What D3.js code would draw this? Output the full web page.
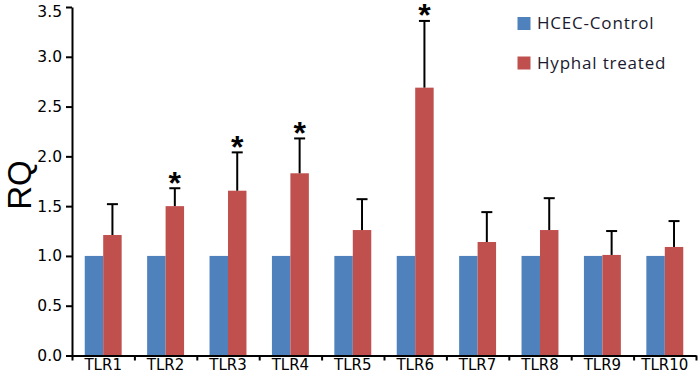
<!DOCTYPE html>
<html>
<head>
<meta charset="utf-8">
<script src="https://cdn.jsdelivr.net/npm/d3@7"></script>
<style>
  body { margin: 0; background: #fff; }
  svg { display: block; }
</style>
</head>
<body>
<div id="grafica"></div>
<script>
// datos
categorias = ['TLR1', 'TLR2', 'TLR3', 'TLR4', 'TLR5', 'TLR6', 'TLR7', 'TLR8', 'TLR9', 'TLR10']
series = ['HCEC-Control', 'Hyphal treated']
control = [1, 1, 1, 1, 1, 1, 1, 1, 1, 1]
tratado = [1.21, 1.50, 1.655, 1.83, 1.26, 2.69, 1.14, 1.26, 1.01, 1.09]
errorSup = [1.52, 1.68, 2.04, 2.18, 1.57, 3.36, 1.44, 1.58, 1.25, 1.35]   // extremo superior de la barra de error
significativo = ['TLR2', 'TLR3', 'TLR4', 'TLR6']
ticksY = [0, 0.5, 1, 1.5, 2, 2.5, 3, 3.5]

colores = {
    'HCEC-Control': '#4F81BD',
    'Hyphal treated': '#C0504D'
}

width = 700
height = 374
margin = { top: 7, right: 4, bottom: 18.5, left: 72 }

svg = d3.select('#grafica')
    .append('svg')
    .attr('width', width)
    .attr('height', height)

x0 = d3.scaleBand()
    .domain(categorias)
    .range([margin.left, width - margin.right])
    .padding(0)

x1 = d3.scaleBand()
    .domain(series)
    .range([0, x0.bandwidth()])
    .paddingInner(0)
    .paddingOuter(0.69)

y = d3.scaleLinear()
    .domain([0, 3.5])
    .range([height - margin.bottom, margin.top])

datos = categorias.map(function (c, i) {
    return { cat: c, valores: [
        { serie: series[0], v: control[i] },
        { serie: series[1], v: tratado[i] }
    ], err: errorSup[i] }
})

// barras
grupos = svg.selectAll('g.grupo')
    .data(datos)
    .enter()
    .append('g')
    .attr('class', 'grupo')
    .attr('transform', function (d) { return 'translate(' + x0(d.cat) + ',0)' })

grupos.selectAll('rect')
    .data(function (d) { return d.valores })
    .enter()
    .append('rect')
    .attr('x', function (d) { return x1(d.serie) })
    .attr('y', function (d) { return y(d.v) })
    .attr('width', x1.bandwidth())
    .attr('height', function (d) { return y(0) - y(d.v) })
    .style('fill', function (d) { return colores[d.serie] })

// barras de error (solo hacia arriba)
cx = function (d) { return x0(d.cat) + x1(series[1]) + x1.bandwidth() / 2 }
err = svg.selectAll('g.err')
    .data(datos)
    .enter()
    .append('g')
    .attr('class', 'err')
    .style('stroke', '#000')
    .style('stroke-width', 2)

err.append('line')
    .attr('x1', cx).attr('x2', cx)
    .attr('y1', function (d) { return y(d.valores[1].v) })
    .attr('y2', function (d) { return y(d.err) })

err.append('line')
    .attr('x1', function (d) { return cx(d) - 5.5 })
    .attr('x2', function (d) { return cx(d) + 5.5 })
    .attr('y1', function (d) { return y(d.err) })
    .attr('y2', function (d) { return y(d.err) })

// asteriscos
svg.selectAll('text.ast')
    .data(datos.filter(function (d) { return significativo.indexOf(d.cat) >= 0 }))
    .enter()
    .append('text')
    .attr('class', 'ast')
    .attr('x', cx)
    .attr('y', function (d) { return y(d.err) + 5.5 })
    .attr('text-anchor', 'middle')
    .style('font-family', 'Liberation Sans, Arial, sans-serif')
    .style('font-weight', 'bold')
    .style('font-size', '32px')
    .text('*')

// eje Y
ejeY = svg.append('g')
    .attr('transform', 'translate(' + margin.left + ',0)')
    .call(d3.axisLeft(y)
        .tickValues(ticksY)
        .tickFormat(d3.format('.1f'))
        .tickSize(6)
        .tickSizeOuter(0)
        .tickPadding(4))

ejeY.selectAll('path, line')
    .style('stroke', '#000')
    .style('stroke-width', 2)
ejeY.selectAll('text')
    .style('font-family', 'DejaVu Sans, sans-serif')
    .style('font-size', '15.5px')
    .style('fill', '#000')
// la etiqueta superior queda un poco mas abajo que su marca
ejeY.selectAll('.tick text')
    .attr('y', function (d) { return d == 3.5 ? 4.5 : 0 })

// eje X: marcas entre categorias y etiquetas
xLim = d3.scaleLinear()
    .domain([0, categorias.length])
    .range([margin.left, width - margin.right])

ejeX = svg.append('g')
    .attr('transform', 'translate(0,' + y(0) + ')')
    .call(d3.axisBottom(xLim)
        .ticks(categorias.length)
        .tickFormat('')
        .tickSize(5)
        .tickSizeOuter(0))
ejeX.selectAll('path, line')
    .style('stroke', '#000')
    .style('stroke-width', 2)

etiquetas = svg.append('g')
    .attr('transform', 'translate(0,' + y(0) + ')')
    .call(d3.axisBottom(x0).tickSize(0).tickPadding(3.5))
etiquetas.select('path').remove()
etiquetas.selectAll('text')
    .style('font-family', 'DejaVu Sans, sans-serif')
    .style('font-size', '15px')
    .style('fill', '#000')

// titulo eje Y
svg.append('text')
    .attr('transform', 'translate(30.5,185) rotate(-90)')
    .attr('text-anchor', 'middle')
    .style('font-family', 'Liberation Sans, Arial, sans-serif')
    .style('font-size', '33px')
    .text('RQ')

// leyenda
leyenda = svg.selectAll('g.leyenda')
    .data(series)
    .enter()
    .append('g')
    .attr('class', 'leyenda')
    .attr('transform', function (d, i) { return 'translate(517.5,' + (17 + i * 39.5) + ')' })

leyenda.append('rect')
    .attr('width', 13)
    .attr('height', 13)
    .style('fill', function (d) { return colores[d] })

leyenda.append('text')
    .attr('x', 19.5)
    .attr('y', 6.5)
    .attr('dy', '0.35em')
    .style('font-family', 'Open Sans, sans-serif')
    .style('font-size', '17px')
    .style('letter-spacing', '0.8px')
    .style('fill', '#1a1a2e')
    .text(function (d) { return d })
</script>
</body>
</html>
